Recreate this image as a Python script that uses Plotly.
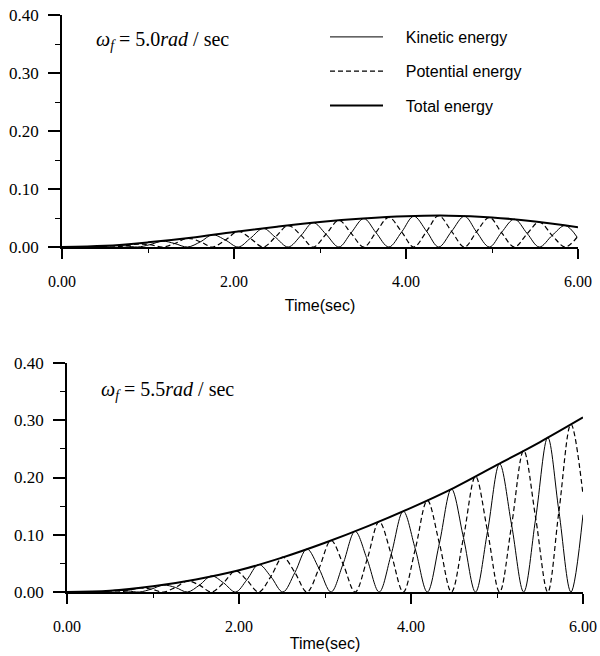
import plotly.graph_objects as go

# ---------------- data ----------------
# Top panel: omega_f = 5.0 rad/sec
top_env_t = [0.0, 0.5, 1.0, 1.5, 2.0, 2.5, 3.0, 3.5, 4.0, 4.5, 5.0, 5.5, 6.0]
top_env_e = [0.0, 0.002, 0.008, 0.016, 0.026, 0.035, 0.043, 0.049, 0.053, 0.054, 0.051, 0.044, 0.034]
top_ke_peak_t = [0.58, 1.17, 1.75, 2.34, 2.92, 3.51, 4.09, 4.68, 5.26, 5.85]
top_ke_peak_v = [0.002, 0.010, 0.021, 0.032, 0.042, 0.049, 0.053, 0.053, 0.048, 0.037]
top_pe_peak_t = [0.29, 0.88, 1.46, 2.05, 2.63, 3.22, 3.80, 4.38, 4.97, 5.55]
top_pe_peak_v = [0.0006, 0.005, 0.015, 0.027, 0.037, 0.046, 0.051, 0.054, 0.051, 0.043]
top_cross_t = [0.15, 0.44, 0.73, 1.02, 1.31, 1.61, 1.90, 2.19, 2.48, 2.78, 3.07,
               3.36, 3.65, 3.95, 4.24, 4.53, 4.82, 5.11, 5.41, 5.70, 5.99]
top_cross_v = [0.0001, 0.0005, 0.002, 0.004, 0.006, 0.009, 0.012, 0.015, 0.017, 0.020, 0.022,
               0.024, 0.025, 0.026, 0.027, 0.027, 0.026, 0.025, 0.023, 0.020, 0.017]

# Bottom panel: omega_f = 5.5 rad/sec
bot_env_t = [0.0, 0.5, 1.0, 1.5, 2.0, 2.5, 3.0, 3.5, 4.0, 4.5, 5.0, 5.5, 6.0]
bot_env_e = [0.0, 0.002, 0.010, 0.022, 0.038, 0.060, 0.086, 0.115, 0.147, 0.182, 0.222, 0.262, 0.305]
bot_ke_peak_t = [0.56, 1.12, 1.68, 2.23, 2.79, 3.35, 3.91, 4.47, 5.03, 5.59]
bot_ke_peak_v = [0.003, 0.012, 0.028, 0.048, 0.075, 0.106, 0.141, 0.180, 0.224, 0.270]
bot_pe_peak_t = [0.28, 0.84, 1.40, 1.96, 2.51, 3.07, 3.63, 4.19, 4.75, 5.31, 5.86]
bot_pe_peak_v = [0.0007, 0.007, 0.019, 0.037, 0.061, 0.090, 0.123, 0.160, 0.202, 0.247, 0.293]
bot_cross_t = [0.14, 0.42, 0.70, 0.98, 1.26, 1.54, 1.82, 2.09, 2.37, 2.65, 2.93,
               3.21, 3.49, 3.77, 4.05, 4.33, 4.61, 4.89, 5.17, 5.45, 5.72]
bot_cross_v = [0.0001, 0.0008, 0.002, 0.005, 0.008, 0.012, 0.016, 0.021, 0.027, 0.034, 0.041,
               0.049, 0.057, 0.066, 0.075, 0.085, 0.095, 0.106, 0.117, 0.129, 0.141]
bot_end_t = 6.0
bot_end_ke = 0.135
bot_end_pe = 0.170

x_ticks = [0, 2, 4, 6]
y_ticks = [0.0, 0.1, 0.2, 0.3, 0.4]
labels = ["Kinetic energy", "Potential energy", "Total energy"]
titles = ["<i>ω</i><sub><i>f</i></sub> = 5.0<i>rad</i> / sec",
          "<i>ω</i><sub><i>f</i></sub> = 5.5<i>rad</i> / sec"]


def build(cross_t, cross_v, own_t, own_v, other_t, extra=None):
    pts = [(0.0, 0.0)]
    pts += list(zip(cross_t, cross_v))
    pts += list(zip(own_t, own_v))
    pts += [(t, 0.0) for t in other_t]
    if extra:
        pts.append(extra)
    pts.sort()
    return [p[0] for p in pts], [p[1] for p in pts]


top_ke = build(top_cross_t, top_cross_v, top_ke_peak_t, top_ke_peak_v, top_pe_peak_t)
top_pe = build(top_cross_t, top_cross_v, top_pe_peak_t, top_pe_peak_v, top_ke_peak_t)
bot_ke = build(bot_cross_t, bot_cross_v, bot_ke_peak_t, bot_ke_peak_v, bot_pe_peak_t,
               (bot_end_t, bot_end_ke))
bot_pe = build(bot_cross_t, bot_cross_v, bot_pe_peak_t, bot_pe_peak_v, bot_ke_peak_t,
               (bot_end_t, bot_end_pe))

fig = go.Figure()
SERIF = "Liberation Serif"
SANS = "Liberation Sans"
PAD = "\u00a0" * 4

styles = [dict(color="black", width=1),
          dict(color="black", width=1.2, dash="5px,3px"),
          dict(color="black", width=2)]

panels = [
    ("x", "y", top_ke, top_pe, (top_env_t, top_env_e), True),
    ("x2", "y2", bot_ke, bot_pe, (bot_env_t, bot_env_e), False),
]
for xa, ya, ke, pe, env, show in panels:
    for i, (xs, ys) in enumerate([ke, pe, env]):
        fig.add_trace(go.Scatter(
            x=xs, y=ys, mode="lines", name=PAD + labels[i],
            line=dict(shape="spline", smoothing=1.0, **styles[i]),
            xaxis=xa, yaxis=ya, showlegend=show, legendgroup=labels[i],
            hoverinfo="skip"))

H = 656.0
W = 600.0


def xaxis_cfg(dom, anchor, standoff):
    return dict(
        domain=dom, anchor=anchor, range=[0, 6], tickvals=x_ticks, tickformat=".2f",
        showline=True, linecolor="black", linewidth=1.5, showgrid=False, zeroline=False,
        ticks="outside", ticklen=10, tickwidth=1.5, tickcolor="black",
        ticklabelstandoff=9,
        minor=dict(dtick=1, tick0=0, ticks="outside", ticklen=4, tickwidth=1.2, tickcolor="black", showgrid=False),
        tickfont=dict(family=SERIF, size=16, color="black"),
        title=dict(text="Time(sec)", font=dict(family=SANS, size=16, color="black"), standoff=standoff),
        automargin=False, fixedrange=True)


def yaxis_cfg(dom, anchor):
    return dict(
        domain=dom, anchor=anchor, range=[0, 0.4], tickvals=y_ticks, tickformat=".2f",
        showline=True, linecolor="black", linewidth=1.5, showgrid=False, zeroline=False,
        ticks="outside", ticklen=12, tickwidth=1.5, tickcolor="black",
        ticklabelstandoff=6,
        minor=dict(dtick=0.05, tick0=0, ticks="outside", ticklen=5, tickwidth=1.2, tickcolor="black", showgrid=False),
        tickfont=dict(family=SERIF, size=17, color="black"),
        automargin=False, fixedrange=True)


fig.update_layout(
    width=600, height=656,
    margin=dict(l=0, r=0, t=0, b=0),
    paper_bgcolor="white", plot_bgcolor="white",
    xaxis=xaxis_cfg([62 / W, 578 / W], "y", 11),
    yaxis=yaxis_cfg([(H - 247) / H, (H - 15) / H], "x"),
    xaxis2=xaxis_cfg([67 / W, 583 / W], "y2", 4),
    yaxis2=yaxis_cfg([(H - 592) / H, (H - 363) / H], "x2"),
    legend=dict(x=325 / W, xanchor="left", y=(H - 20) / H, yanchor="top",
                font=dict(family=SANS, size=16, color="black"),
                bgcolor="rgba(0,0,0,0)", borderwidth=0,
                traceorder="grouped", tracegroupgap=10.5, itemwidth=53),
    annotations=[
        dict(text=titles[0], x=94 / W, y=(H - 40) / H, xref="paper", yref="paper",
             xanchor="left", yanchor="middle", showarrow=False,
             font=dict(family=SERIF, size=20, color="black")),
        dict(text=titles[1], x=99 / W, y=(H - 390) / H, xref="paper", yref="paper",
             xanchor="left", yanchor="middle", showarrow=False,
             font=dict(family=SERIF, size=20, color="black")),
    ],
)

fig.write_html("out.html")
